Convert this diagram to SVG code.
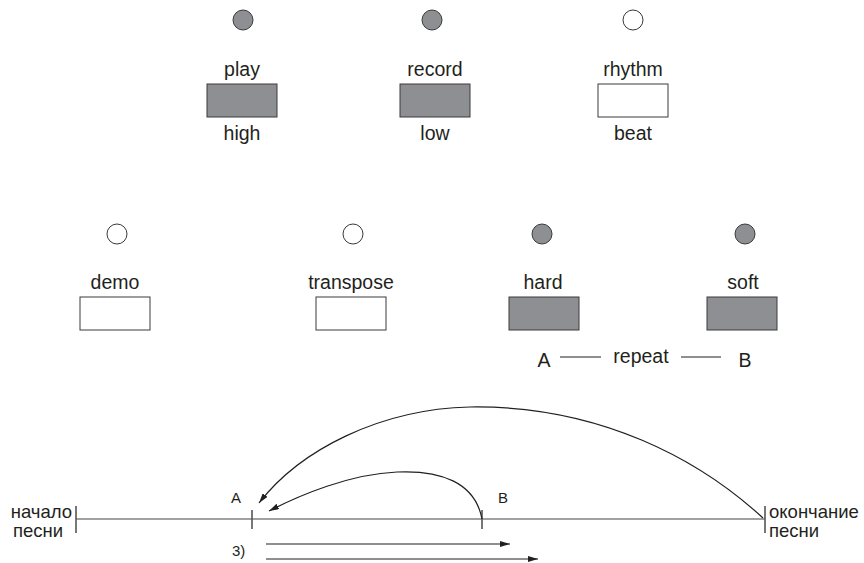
<svg xmlns="http://www.w3.org/2000/svg" width="864" height="563" viewBox="0 0 864 563">
<defs>
<style>
text{font-family:"Liberation Sans",Arial,sans-serif;fill:#231f20}
.lbl{font-size:19.5px;text-anchor:middle}
.sm{font-size:15px}
.tl{font-size:18.5px}
.on{fill:#8e8f92;stroke:#3a3a3a;stroke-width:1}
.off{fill:#fff;stroke:#3a3a3a;stroke-width:1}
.ln{stroke:#231f20;stroke-width:1.2;fill:none}
.tk{stroke:#555;stroke-width:1.6}
</style>
<marker id="ah" viewBox="0 0 10 6" refX="10" refY="3" markerWidth="10" markerHeight="6" markerUnits="userSpaceOnUse" orient="auto">
<path d="M0,0L10,3L0,6z" fill="#231f20"/>
</marker>
</defs>
<g id="play"><circle class="on" cx="243" cy="20" r="10"/><text class="lbl" x="242" y="76">play</text><rect class="on" x="207" y="84" width="70" height="33"/><text class="lbl" x="242" y="140">high</text></g>
<g id="record"><circle class="on" cx="432" cy="20" r="10"/><text class="lbl" x="435" y="76">record</text><rect class="on" x="400" y="84" width="70" height="33"/><text class="lbl" x="435" y="140">low</text></g>
<g id="rhythm"><circle class="off" cx="633" cy="20" r="10"/><text class="lbl" x="633" y="76">rhythm</text><rect class="off" x="598" y="84" width="70" height="33"/><text class="lbl" x="633" y="140">beat</text></g>
<g id="demo"><circle class="off" cx="117" cy="234" r="10"/><text class="lbl" x="115" y="289">demo</text><rect class="off" x="80" y="297" width="70" height="33"/></g>
<g id="transpose"><circle class="off" cx="353" cy="234" r="10"/><text class="lbl" x="351" y="289">transpose</text><rect class="off" x="316" y="297" width="70" height="33"/></g>
<g id="hard"><circle class="on" cx="542" cy="234" r="10"/><text class="lbl" x="543" y="289">hard</text><rect class="on" x="509" y="297" width="70" height="33"/></g>
<g id="soft"><circle class="on" cx="745" cy="234" r="10"/><text class="lbl" x="743" y="289">soft</text><rect class="on" x="707" y="297" width="70" height="33"/></g>
<g id="repeat"><text class="lbl" x="544" y="367">A</text><line class="ln" x1="560" y1="357" x2="601" y2="357"/><text class="lbl" x="641" y="363">repeat</text><line class="ln" x1="681" y1="357" x2="721" y2="357"/><text class="lbl" x="745" y="367">B</text></g>
<g id="timeline">
<line x1="76" y1="519" x2="765" y2="519" style="stroke:#444;stroke-width:1.2"/>
<line class="tk" x1="76" y1="506" x2="76" y2="533"/>
<line class="tk" x1="252" y1="510" x2="252" y2="529"/>
<line class="tk" x1="482" y1="510" x2="482" y2="529"/>
<line class="tk" x1="765" y1="506" x2="765" y2="533"/>
<text class="tl" style="text-anchor:end" x="72" y="518">начало</text>
<text class="tl" style="text-anchor:end" x="63" y="537">песни</text>
<text class="tl" x="769" y="518">окончание</text>
<text class="tl" x="769" y="537">песни</text>
<text class="sm" x="231" y="503">A</text>
<text class="sm" x="498" y="503">B</text>
<text class="sm" x="232" y="556">3)</text>
</g>
<g id="connectors">
<path class="ln" d="M763,518 C700,460 600,405 470,407 C380,409 300,450 259,503" marker-end="url(#ah)"/>
<path class="ln" d="M482,519 C475,482 440,470 397,472 C350,474 300,495 269,511" marker-end="url(#ah)"/>
<line class="ln" x1="266" y1="544" x2="510" y2="544" marker-end="url(#ah)"/>
<line class="ln" x1="266" y1="559" x2="538" y2="559" marker-end="url(#ah)"/>
</g>
</svg>
